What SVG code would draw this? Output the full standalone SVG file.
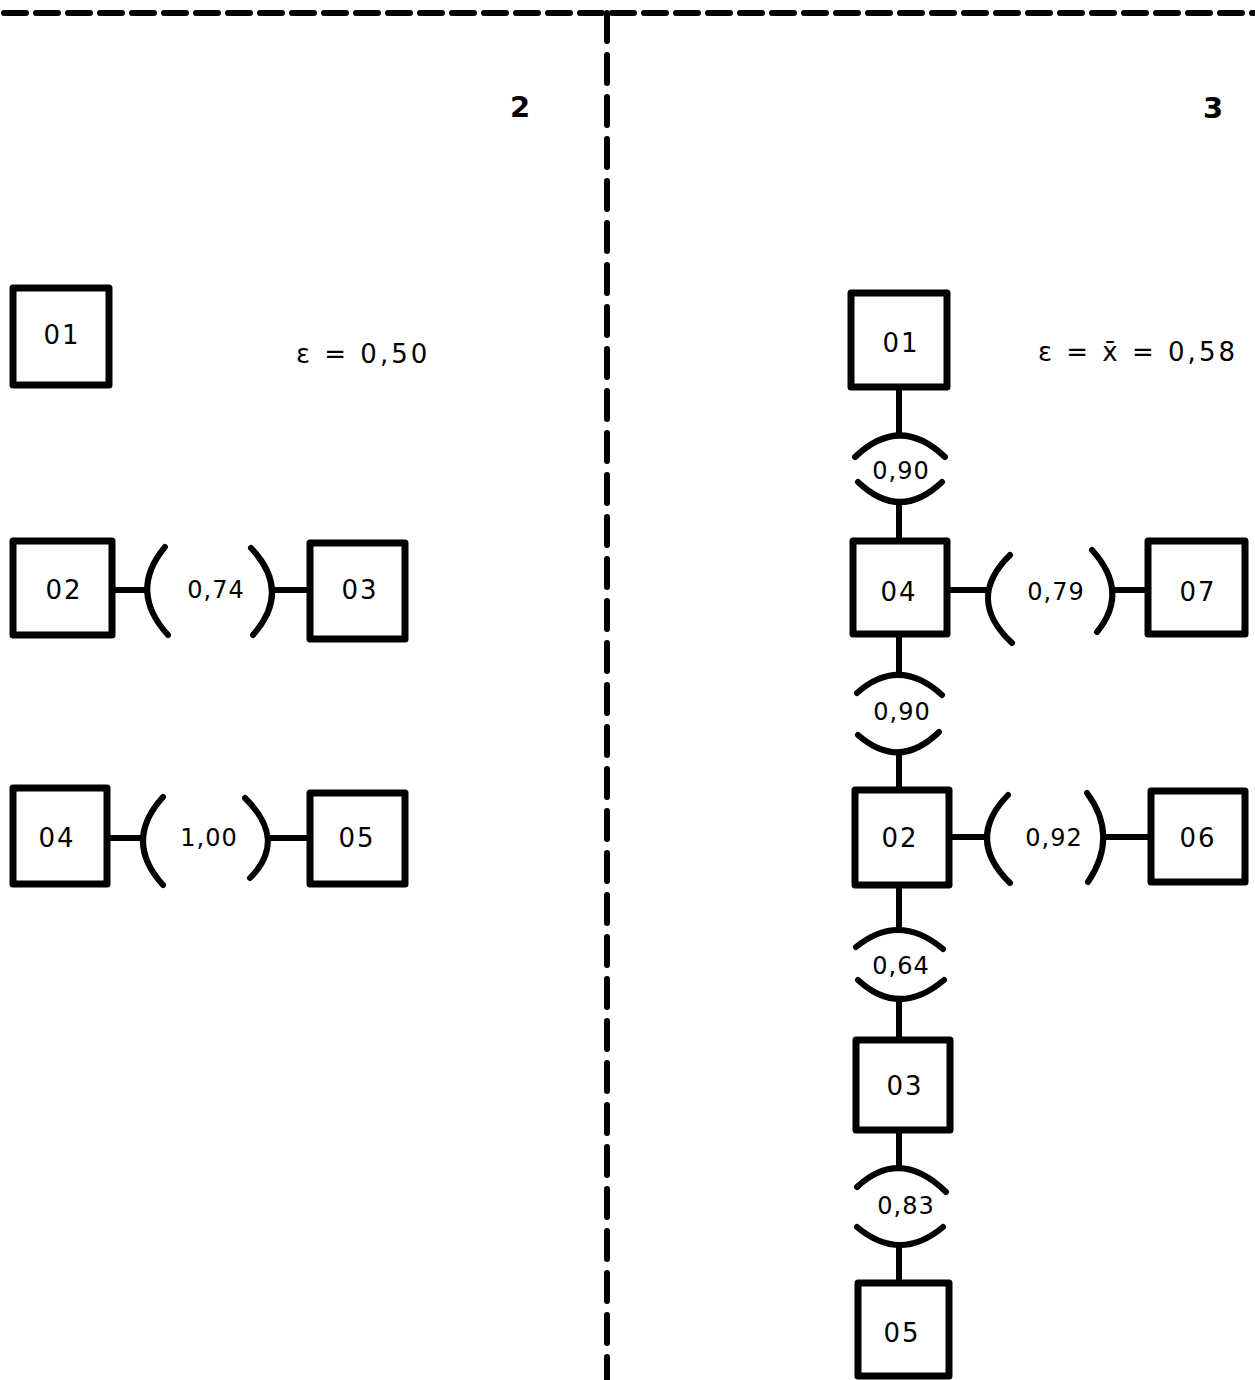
<svg xmlns="http://www.w3.org/2000/svg" width="1255" height="1380" viewBox="0 0 1255 1380">
<style>
.bg{fill:#fff}
.frame{fill:none;stroke:#000;stroke-width:6;stroke-linecap:round}
.box{fill:#fff;stroke:#000;stroke-width:7;stroke-linejoin:round}
.ln{fill:none;stroke:#000;stroke-width:6}
.arc{fill:none;stroke:#000;stroke-width:6;stroke-linecap:round}
.lbl{font-family:"DejaVu Sans","Liberation Sans",sans-serif;font-size:24px;fill:#000;text-anchor:middle;dominant-baseline:central;letter-spacing:1px}
.nl{font-family:"DejaVu Sans","Liberation Sans",sans-serif;font-size:26px;fill:#000;text-anchor:middle;dominant-baseline:central;letter-spacing:2px}
.num{font-family:"DejaVu Sans","Liberation Sans",sans-serif;font-size:29px;font-weight:bold;fill:#000;text-anchor:middle;dominant-baseline:central}
.eq{font-family:"DejaVu Sans","Liberation Sans",sans-serif;font-size:26px;fill:#000;dominant-baseline:central;letter-spacing:3px}
</style>
<rect class="bg" x="0" y="0" width="1255" height="1380"/>
<g id="frame">
<line class="frame" x1="4" y1="13" x2="1255" y2="13" stroke-dasharray="22 10"/>
<line class="frame" x1="607" y1="13" x2="607" y2="1380" stroke-dasharray="28 14"/>
<text class="num" x="520" y="107">2</text>
<text class="num" x="1213" y="108">3</text>
<text class="eq" x="296" y="354">ε = 0,50</text>
<text class="eq" x="1038" y="352">ε = x̄ = 0,58</text>
</g>
<g id="connectors">
<line class="ln" x1="112" y1="590" x2="147" y2="590"/>
<path class="arc" d="M165,547 Q128,591 168,635"/>
<path class="arc" d="M251,548 Q292,591 253,635"/>
<line class="ln" x1="272" y1="590" x2="310" y2="590"/>
<text class="lbl" x="216" y="590">0,74</text>
<line class="ln" x1="107" y1="838" x2="143" y2="838"/>
<path class="arc" d="M163,797 Q123,841 163,885"/>
<path class="arc" d="M245,798 Q288,840 250,878"/>
<line class="ln" x1="268" y1="838" x2="310" y2="838"/>
<text class="lbl" x="209" y="838">1,00</text>
<line class="ln" x1="899" y1="387" x2="899" y2="435"/>
<path class="arc" d="M855,457 Q900,414 945,457"/>
<path class="arc" d="M858,482 Q900,522 942,482"/>
<line class="ln" x1="899" y1="502" x2="899" y2="541"/>
<text class="lbl" x="901" y="471">0,90</text>
<line class="ln" x1="947" y1="590" x2="988" y2="590"/>
<path class="arc" d="M1010,555 Q965,599 1012,643"/>
<path class="arc" d="M1092,550 Q1130,592 1097,632"/>
<line class="ln" x1="1112" y1="590" x2="1148" y2="590"/>
<text class="lbl" x="1056" y="592">0,79</text>
<line class="ln" x1="899" y1="634" x2="899" y2="675"/>
<path class="arc" d="M857,693 Q899,656 942,695"/>
<path class="arc" d="M858,735 Q899,771 939,732"/>
<line class="ln" x1="899" y1="752" x2="899" y2="790"/>
<text class="lbl" x="902" y="712">0,90</text>
<line class="ln" x1="949" y1="837" x2="987" y2="837"/>
<path class="arc" d="M1008,795 Q965,839 1010,883"/>
<path class="arc" d="M1087,793 Q1119,836 1088,882"/>
<line class="ln" x1="1103" y1="837" x2="1151" y2="837"/>
<text class="lbl" x="1054" y="838">0,92</text>
<line class="ln" x1="899" y1="885" x2="899" y2="930"/>
<path class="arc" d="M856,947 Q899,912 943,949"/>
<path class="arc" d="M858,980 Q899,1018 944,980"/>
<line class="ln" x1="899" y1="999" x2="899" y2="1040"/>
<text class="lbl" x="901" y="966">0,64</text>
<line class="ln" x1="899" y1="1130" x2="899" y2="1168"/>
<path class="arc" d="M857,1187 Q900,1147 946,1192"/>
<path class="arc" d="M857,1227 Q900,1263 943,1227"/>
<line class="ln" x1="899" y1="1245" x2="899" y2="1283"/>
<text class="lbl" x="906" y="1206">0,83</text>
</g>
<g id="L01"><rect class="box" x="13" y="288" width="96" height="97"/><text class="nl" x="62" y="335">01</text></g>
<g id="L02"><rect class="box" x="13" y="541" width="99" height="94"/><text class="nl" x="64" y="590">02</text></g>
<g id="L03"><rect class="box" x="310" y="543" width="95" height="96"/><text class="nl" x="360" y="590">03</text></g>
<g id="L04"><rect class="box" x="13" y="788" width="94" height="96"/><text class="nl" x="57" y="838">04</text></g>
<g id="L05"><rect class="box" x="310" y="793" width="95" height="91"/><text class="nl" x="357" y="838">05</text></g>
<g id="R01"><rect class="box" x="851" y="293" width="96" height="94"/><text class="nl" x="901" y="343">01</text></g>
<g id="R04"><rect class="box" x="853" y="541" width="94" height="93"/><text class="nl" x="899" y="592">04</text></g>
<g id="R07"><rect class="box" x="1148" y="541" width="97" height="93"/><text class="nl" x="1198" y="592">07</text></g>
<g id="R02"><rect class="box" x="855" y="790" width="94" height="95"/><text class="nl" x="900" y="838">02</text></g>
<g id="R06"><rect class="box" x="1151" y="791" width="94" height="91"/><text class="nl" x="1198" y="838">06</text></g>
<g id="R03"><rect class="box" x="856" y="1040" width="94" height="90"/><text class="nl" x="905" y="1086">03</text></g>
<g id="R05"><rect class="box" x="858" y="1283" width="91" height="93"/><text class="nl" x="902" y="1333">05</text></g>
</svg>
